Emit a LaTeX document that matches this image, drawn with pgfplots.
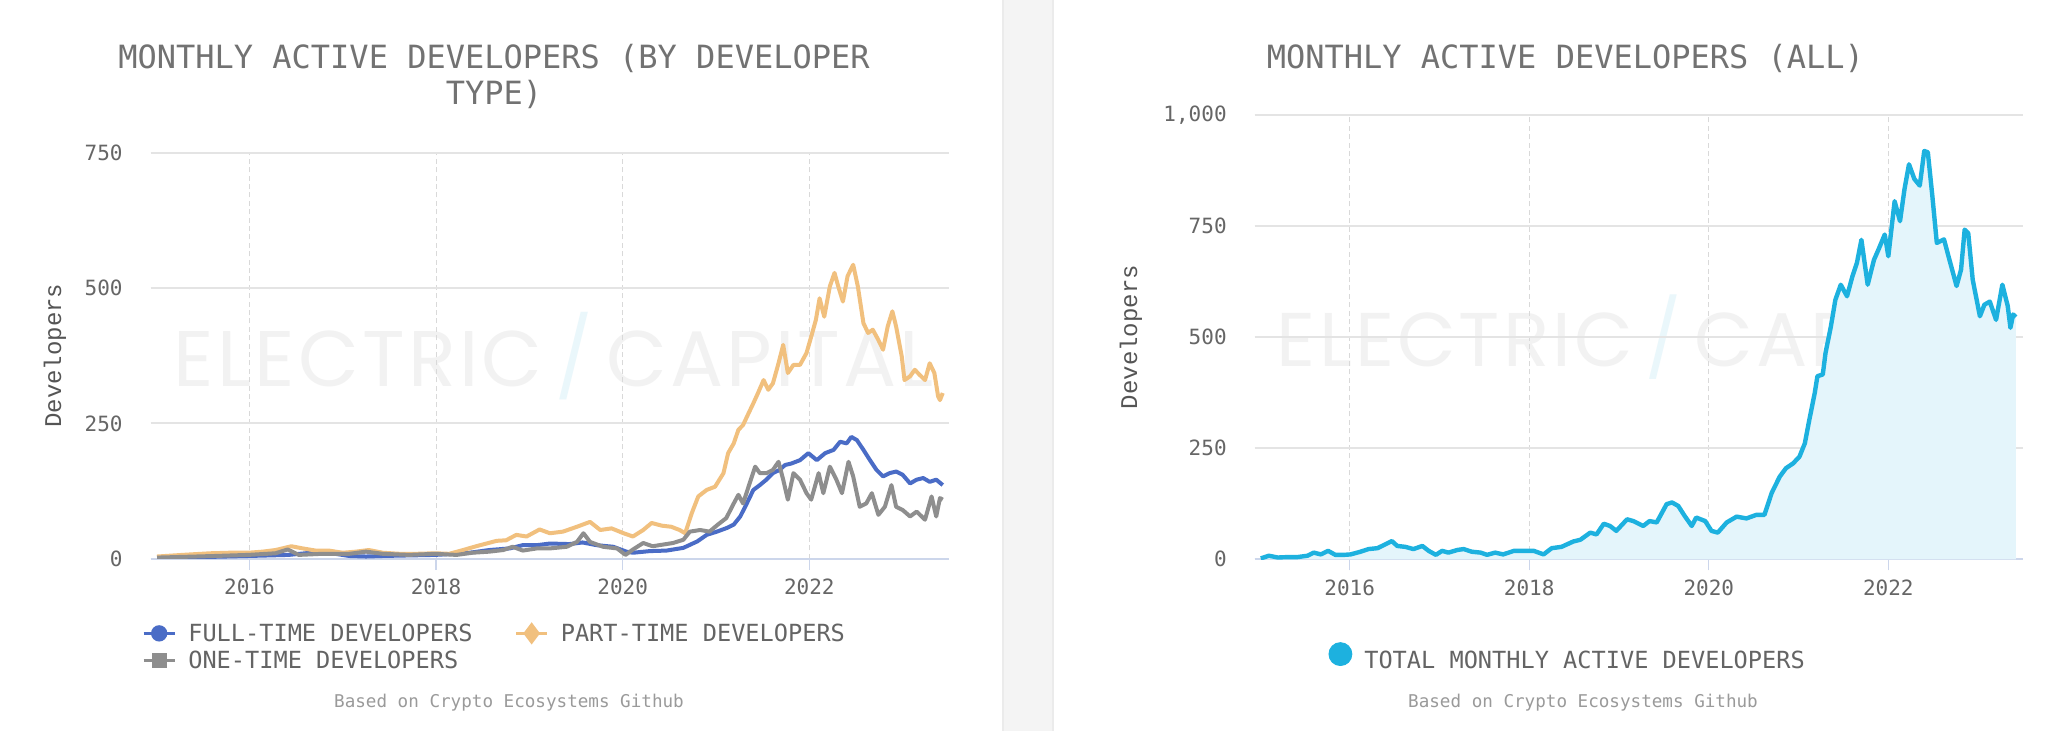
\documentclass[border=0pt]{standalone}
\usepackage{pgfplots}
\pgfplotsset{compat=1.18}
\usepackage{pgfplotstable}
\usepackage{fontspec}
\newfontfamily\monof{DejaVu Sans Mono}
\newfontfamily\courf{Liberation Mono}
\newfontfamily\wmf{Poppins}[LetterSpace=4]
\definecolor{ftblue}{HTML}{4A6CC6}
\definecolor{ptorange}{HTML}{F1C07E}
\definecolor{otgray}{HTML}{8E8E8E}
\definecolor{totc}{HTML}{1DB1DF}
\definecolor{areafill}{HTML}{E4F5FB}
\definecolor{axisc}{HTML}{CCD6EB}
\definecolor{gridh}{HTML}{E4E4E4}
\definecolor{gridv}{HTML}{D9D9D9}
\definecolor{tickc}{HTML}{666666}
\definecolor{titlec}{HTML}{727272}
\definecolor{legc}{HTML}{646464}
\definecolor{srcc}{HTML}{9A9A9A}
\definecolor{ylabc}{HTML}{555555}
\definecolor{sepc}{HTML}{F4F4F4}
\definecolor{sepb}{HTML}{EBEBEB}
\definecolor{wmc}{HTML}{F2F2F2}
\definecolor{boltc}{HTML}{EAF7FB}

\pgfplotstableread{
x y
2015.01 2
2015.50 3
2015.99 5
2016.42 7
2016.60 10
2016.78 13
2016.92 9
2017.07 5
2017.25 4
2017.43 5
2017.70 6
2017.99 7
2018.20 9
2018.36 11
2018.57 16
2018.79 19
2018.93 25
2019.08 25
2019.22 28
2019.43 27
2019.57 30
2019.72 25
2019.90 22
2020.04 13
2020.11 11
2020.29 14
2020.47 15
2020.65 20
2020.80 32
2020.90 44
2021.01 50
2021.12 57
2021.19 63
2021.26 78
2021.33 102
2021.40 127
2021.47 136
2021.54 146
2021.61 158
2021.68 164
2021.74 173
2021.81 176
2021.90 182
2021.99 195
2022.08 182
2022.17 195
2022.26 201
2022.33 216
2022.40 213
2022.45 225
2022.51 219
2022.58 201
2022.65 182
2022.72 164
2022.79 152
2022.86 158
2022.93 161
2023.00 155
2023.08 139
2023.15 146
2023.22 149
2023.29 142
2023.36 146
2023.43 136
}\fulltime

\pgfplotstableread{
x y
2015.01 4
2015.28 7
2015.58 10
2015.78 11
2015.99 11
2016.14 13
2016.28 16
2016.45 23
2016.57 19
2016.71 15
2016.85 15
2017.00 11
2017.14 13
2017.28 16
2017.43 11
2017.61 9
2017.78 9
2017.99 10
2018.14 9
2018.29 16
2018.43 23
2018.54 28
2018.65 33
2018.75 34
2018.86 44
2018.97 41
2019.11 54
2019.22 47
2019.36 50
2019.51 59
2019.65 68
2019.76 53
2019.88 56
2020.01 47
2020.11 41
2020.22 53
2020.31 66
2020.42 61
2020.52 59
2020.61 53
2020.67 47
2020.74 84
2020.81 115
2020.90 127
2020.99 133
2021.08 158
2021.13 195
2021.19 213
2021.24 238
2021.29 247
2021.35 269
2021.40 287
2021.45 306
2021.51 330
2021.56 312
2021.61 324
2021.67 361
2021.72 395
2021.77 343
2021.83 358
2021.90 358
2021.97 380
2022.02 410
2022.07 441
2022.11 481
2022.16 447
2022.22 503
2022.27 528
2022.31 503
2022.36 475
2022.41 522
2022.47 543
2022.52 503
2022.58 435
2022.63 417
2022.68 423
2022.74 404
2022.79 386
2022.84 429
2022.89 457
2022.93 429
2022.99 374
2023.02 330
2023.08 337
2023.13 349
2023.18 340
2023.24 330
2023.29 361
2023.34 343
2023.38 300
2023.40 293
2023.43 306
}\parttime

\pgfplotstableread{
x y
2015.01 2
2015.63 5
2015.99 7
2016.28 10
2016.41 17
2016.53 7
2016.78 9
2017.07 9
2017.25 13
2017.43 9
2017.71 7
2017.99 9
2018.22 7
2018.39 11
2018.57 13
2018.72 16
2018.82 22
2018.93 15
2019.08 19
2019.22 19
2019.40 22
2019.51 31
2019.58 47
2019.65 31
2019.79 22
2019.94 19
2020.03 7
2020.11 17
2020.22 29
2020.32 23
2020.43 26
2020.54 29
2020.65 35
2020.72 50
2020.83 53
2020.93 50
2021.02 63
2021.11 75
2021.19 102
2021.24 118
2021.29 102
2021.36 139
2021.42 170
2021.47 158
2021.54 158
2021.61 164
2021.67 179
2021.72 146
2021.77 109
2021.83 158
2021.90 146
2021.97 121
2022.02 109
2022.10 158
2022.15 121
2022.22 170
2022.29 146
2022.35 121
2022.42 179
2022.47 152
2022.54 96
2022.61 102
2022.67 121
2022.74 81
2022.81 96
2022.88 136
2022.93 96
2023.00 90
2023.08 78
2023.15 87
2023.24 72
2023.31 115
2023.36 78
2023.40 112
2023.43 109
}\onetime

\pgfplotstableread{
x y
2015.01 2
2015.10 8
2015.20 4
2015.31 5
2015.42 5
2015.53 8
2015.60 15
2015.68 11
2015.76 19
2015.84 10
2015.94 10
2016.01 11
2016.12 17
2016.21 23
2016.31 25
2016.38 32
2016.47 41
2016.53 30
2016.62 28
2016.71 23
2016.81 30
2016.88 19
2016.96 10
2017.03 19
2017.10 15
2017.20 21
2017.27 23
2017.36 17
2017.46 15
2017.53 10
2017.62 15
2017.71 11
2017.83 19
2017.94 19
2018.05 19
2018.16 11
2018.25 25
2018.36 28
2018.49 40
2018.57 44
2018.68 60
2018.75 56
2018.83 80
2018.90 75
2018.97 64
2019.09 90
2019.16 86
2019.27 75
2019.34 86
2019.42 83
2019.53 124
2019.59 128
2019.66 120
2019.73 98
2019.81 75
2019.86 94
2019.96 86
2020.03 64
2020.10 60
2020.20 83
2020.31 96
2020.42 92
2020.53 100
2020.62 100
2020.70 149
2020.79 186
2020.86 205
2020.94 216
2021.01 231
2021.07 261
2021.12 314
2021.18 374
2021.21 412
2021.27 416
2021.30 464
2021.36 524
2021.41 584
2021.47 618
2021.54 592
2021.60 637
2021.65 667
2021.70 719
2021.77 618
2021.84 674
2021.89 697
2021.96 731
2022.00 682
2022.07 806
2022.13 761
2022.18 833
2022.23 889
2022.29 856
2022.35 841
2022.40 919
2022.44 916
2022.49 818
2022.54 712
2022.62 720
2022.67 682
2022.76 615
2022.81 652
2022.85 742
2022.89 734
2022.94 629
2023.02 547
2023.07 573
2023.13 580
2023.20 539
2023.27 618
2023.33 570
2023.36 521
2023.39 551
2023.42 545
}\total

\pgfplotsset{
  ecstyle/.style={
    scale only axis,
    xmin=2014.94, xmax=2023.5,
    xtick={2016,2018,2020,2022},
    xticklabels={2016,2018,2020,2022},
    axis x line*=bottom, axis y line*=left,
    y axis line style={draw=none},
    x axis line style={draw=axisc, line width=1pt, -},
    tick align=outside, major tick length=5.5pt,
    xtick style={draw=axisc, line width=0.6pt},
    ytick style={draw=none},
    xmajorgrids, ymajorgrids,
    major x grid style={draw=gridv, line width=0.5pt, dash pattern=on 2.5pt off 1.7pt},
    major y grid style={draw=gridh, line width=1pt},
    ticklabel style={font=\monof\fontsize{10.5}{12}\selectfont, text=tickc},
    /pgf/number format/assume math mode=true,
    /pgf/number format/1000 sep={,},
    yticklabel style={anchor=east, inner sep=0pt, xshift=-8.25pt},
    xticklabel style={anchor=base, inner sep=0pt, yshift=-12.65pt},
    legend cell align=left,
    legend style={draw=none, fill=none, inner sep=0pt, outer sep=0pt,
      font=\monof\fontsize{11.8}{14}\selectfont, text=legc,
      nodes={inner sep=0pt, text height=9pt, text depth=3pt},
      row sep=1.4pt,
      /tikz/every odd column/.style={column sep=6pt},
      /tikz/every even column/.style={column sep=21pt}},
  }
}

\begin{document}
\begin{tikzpicture}
\useasboundingbox (0,0) rectangle (1035pt,365.5pt);
\fill[white] (0,0) rectangle (1035pt,365.5pt);
\fill[sepc] (501pt,0) rectangle (527pt,365.5pt);
\draw[sepb, line width=1pt] (501.5pt,0) -- (501.5pt,365.5pt);
\draw[sepb, line width=1pt] (526.5pt,0) -- (526.5pt,365.5pt);

% watermarks
\node[text=wmc, inner sep=0pt] at (277pt,187.5pt) {\resizebox{380pt}{!}{\wmf ELECTRIC\,{\color{boltc}/}\,CAPITAL}};
\node[text=wmc, inner sep=0pt] at (822pt,197pt) {\resizebox{367pt}{!}{\wmf ELECTRIC\,{\color{boltc}/}\,CAPITAL}};

% titles
\node[anchor=base, font=\monof\fontsize{16}{18}\selectfont, text=titlec] at (247pt,331.35pt) {MONTHLY ACTIVE DEVELOPERS (BY DEVELOPER};
\node[anchor=base, font=\monof\fontsize{16}{18}\selectfont, text=titlec] at (247pt,313pt) {TYPE)};
\node[anchor=base, font=\monof\fontsize{16}{18}\selectfont, text=titlec] at (782.7pt,331.35pt) {MONTHLY ACTIVE DEVELOPERS (ALL)};

% sources
\node[anchor=base, font=\monof\fontsize{8.8}{10}\selectfont, text=srcc] at (254.5pt,11.5pt) {Based on Crypto Ecosystems Github};
\node[anchor=base, font=\monof\fontsize{8.8}{10}\selectfont, text=srcc] at (791.5pt,11.5pt) {Based on Crypto Ecosystems Github};

% left chart
\begin{axis}[ecstyle,
  at={(75.25pt,86.15pt)}, anchor=south west,
  width=399.4pt, height=203pt,
  ymin=0, ymax=750, ytick={0,250,500,750},
  ylabel={Developers},
  every axis y label/.style={at={(axis description cs:-0.1196,0.5)}, rotate=90, anchor=center, font=\courf\fontsize{12}{14}\selectfont, text=ylabc},
  legend columns=2,
  legend style={at={(axis description cs:-0.0106,-0.1593)}, anchor=north west},
  legend image code/.code={\draw[mark repeat=2, mark phase=2, #1] plot coordinates {(0pt,1pt) (7.75pt,1pt) (15.5pt,1pt)};},
]
\addlegendimage{ftblue, line width=1.65pt, mark=*, mark size=3.25pt}
\addlegendentry{FULL-TIME DEVELOPERS}
\addlegendimage{ptorange, line width=1.65pt, mark=diamond*, mark size=4.2pt}
\addlegendentry{PART-TIME DEVELOPERS}
\addlegendimage{otgray, line width=1.65pt, mark=square*, mark size=3pt}
\addlegendentry{ONE-TIME DEVELOPERS}
\addplot[ftblue, line width=2pt, line join=round, forget plot] table {\fulltime};
\addplot[ptorange, line width=2pt, line join=round, forget plot] table {\parttime};
\addplot[otgray, line width=2pt, line join=round, forget plot] table {\onetime};
\end{axis}

% right chart
\begin{axis}[ecstyle,
  at={(627.25pt,85.85pt)}, anchor=south west,
  width=384.25pt, height=222.15pt,
  ymin=0, ymax=1000, ytick={0,250,500,750,1000},
  ylabel={Developers},
  every axis y label/.style={at={(axis description cs:-0.1607,0.5)}, rotate=90, anchor=center, font=\courf\fontsize{12}{14}\selectfont, text=ylabc},
  legend style={at={(axis description cs:0.0963,-0.1866)}, anchor=north west},
  legend image code/.code={\fill[#1] (5.75pt,4pt) circle (5.75pt);},
]
\addlegendimage{totc}
\addlegendentry{TOTAL MONTHLY ACTIVE DEVELOPERS}
\addplot[fill=areafill, draw=none, forget plot] table {\total} \closedcycle;
\addplot[totc, line width=2.2pt, line join=round, forget plot] table {\total};
\end{axis}
\end{tikzpicture}
\end{document}
